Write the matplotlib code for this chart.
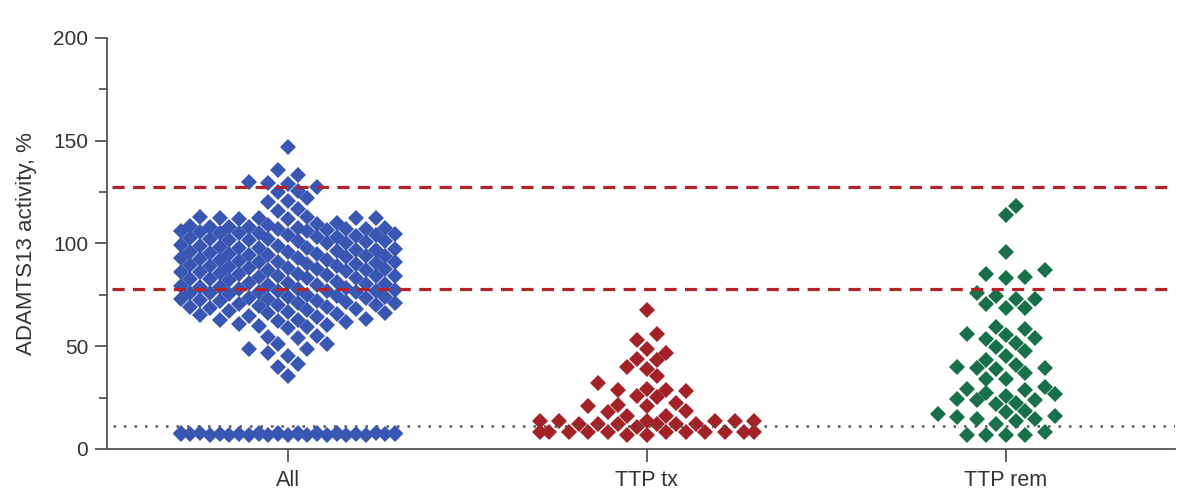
import numpy as np
import matplotlib.pyplot as plt

plt.rcParams['font.family'] = ['Liberation Sans', 'DejaVu Sans']

categories = ['All', 'TTP tx', 'TTP rem']

all_values = [
    # upper scatter
    147, 136, 133.5, 130, 129.5, 129, 127.5, 125, 125.5, 122, 120.5, 120,
    117, 116, 113, 112.5, 112.5, 112, 112.5, 113, 112, 112.5,
    # dense core
    107, 107.5, 108, 107, 109, 108.5, 107.5, 110, 108, 107, 109.5, 108,
    105, 104, 106, 105.5, 104.5, 105, 103.5, 106.5, 105, 104, 106,
    101, 102, 100, 101.5, 103, 102.5, 100.5, 101, 102, 100, 101.5, 103,
    98, 97, 99, 98.5, 97.5, 96.5, 99.5, 98, 97, 98, 99,
    95, 94, 96, 93, 94.5, 95.5, 93.5, 94, 95, 96, 93, 94.5,
    91, 90, 92, 91.5, 89.5, 90.5, 92.5, 91, 90, 92, 91,
    88, 87, 86, 89, 87.5, 88.5, 86.5, 87, 88, 89, 86, 87.5,
    84, 83, 85, 84.5, 82.5, 83.5, 85.5, 84, 83, 85, 84, 82.5,
    80, 81, 79, 80.5, 82, 79.5, 81.5, 80, 81, 79, 80.5,
    77, 76, 78, 77.5, 76.5, 75.5, 78.5, 77, 76, 78, 77, 76.5,
    73, 74, 72, 73.5, 75, 72.5, 74.5, 73, 74, 72, 73.5,
    70, 69, 71, 70.5, 68.5, 69.5, 71.5, 70, 69, 71,
    66, 67, 65, 66.5, 68, 65.5, 67.5, 66,
    63, 64, 62, 63.5, 64.5, 62.5, 63,
    60, 59, 60.5, 61, 59.5,
    # lower tail
    54.7, 55, 54, 51, 51, 48.7, 48.7, 46.7, 45.4, 41.4, 39.7, 35.5,
    # below detection
    7, 7.5, 8, 7, 7.5, 8, 7, 7.5, 8, 7.5, 7, 8, 7.5, 7, 8,
    7.5, 7, 7.5, 8, 7, 7.5, 8, 7, 7.5, 8, 7.5, 7, 7.5, 8, 7.5,
]

tx_values = [
    67.6, 56.1, 53.1, 48.9, 46.9, 43.7, 43.2, 38.8, 40, 35.3, 31.9,
    29.4, 28.6, 25.9, 25.1, 28.6, 28.3, 22.6, 21, 21.5, 21, 18.6, 17.8,
    16.2, 16.2, 13.7, 13.7, 13.7, 13.7, 13.7, 13.7,
    12.1, 12.1, 12.1, 12.1, 12.1, 12.1, 10.7,
    8.1, 8.1, 8.1, 8.1, 8.1, 8.1, 8.1, 8.1, 8.1, 8.1, 8.1, 7, 7,
]

rem_values = [
    118.1, 114.1, 96, 86.9, 83.8, 83, 85, 75.7, 73.1, 70.7, 68.8, 68.8,
    72.8, 74.4, 59.5, 58.3, 56.1, 53.7, 51.8, 47.7, 49.4, 54.2, 55.3,
    45.3, 40.9, 39.2, 34.3, 38.8, 37.2, 39.2, 40, 43.4, 34, 29.1, 27.2,
    28.6, 30.4, 26.7, 25.9, 24.3, 22.3, 23.8, 23.9, 21.8, 18.6, 17.8,
    17, 16.2, 14.6, 13.7, 12.1, 14.6, 15.4, 8.1, 6.8, 6.8, 6.8, 6.8,
]

normal_range = [78, 127.5]
detection_limit = 11

colors = ['#3a56b3', '#a32228', '#18704b']

PX_X = 359.0   # pixels per category step
PX_Y = 2.055   # pixels per % unit


def swarm_offsets(values, w=19.5, h=14.0, grid=9.75, half=112):
    # place points bottom-up on a half-step grid, nearest free slot to centre
    vals = np.asarray(values, float)
    ypx = vals * PX_Y
    kmax = int(half // grid)
    ks = np.arange(-kmax, kmax + 1)
    xs = np.zeros(len(vals))
    px, py = [], []
    for i in np.argsort(vals, kind='stable'):
        if px:
            ax_ = np.array(px)
            ay_ = np.array(py)
            cand = ks[:, None] * grid
            d = np.abs(cand - ax_[None, :]) / w + np.abs(ypx[i] - ay_[None, :]) / h
            over = np.clip(1 - d, 0, None).sum(axis=1)
        else:
            over = np.zeros(len(ks))
        left = sum(1 for v in px if v < 0)
        right = sum(1 for v in px if v > 0)
        bias = np.where(ks < 0, left, right) * 1e-6
        score = over * 1000 + np.abs(ks) + bias
        k = ks[np.argmin(score)]
        xs[i] = k * grid
        px.append(k * grid)
        py.append(ypx[i])
    return xs / PX_X


fig = plt.figure(figsize=(11.79, 4.99), dpi=100)
ax = fig.add_axes([107 / 1179, 1 - 449 / 499, 1068 / 1179, 411 / 499])

for i, (vals, col) in enumerate(zip([all_values, tx_values, rem_values], colors)):
    xs = i + swarm_offsets(vals)
    ax.plot(xs, vals, linestyle='none', marker='D', ms=7.7, mew=0,
            color=col, zorder=2)

for yv in normal_range:
    ax.axhline(yv, xmin=0.005, color='#b3242a', lw=2.3, dashes=(3.8, 2.6),
               zorder=3)
ax.axhline(detection_limit, xmin=0.006, color='#555555', lw=1.8,
           dashes=(1, 3.2), zorder=3)

ax.set_xlim(-0.504, 2.471)
ax.set_ylim(0, 200)
ax.set_xticks(range(len(categories)))
ax.set_xticklabels(categories)
ax.set_yticks([0, 50, 100, 150, 200])
ax.set_yticks([25, 75, 125, 175], minor=True)

for s in ['top', 'right']:
    ax.spines[s].set_visible(False)
for s in ['left', 'bottom']:
    ax.spines[s].set_color('#555555')
    ax.spines[s].set_linewidth(1.3)

ax.tick_params(axis='y', which='major', length=8.6, width=1.3,
               color='#555555', labelsize=15, labelcolor='#333333', pad=5)
ax.tick_params(axis='y', which='minor', length=5.8, width=1.3,
               color='#555555')
ax.tick_params(axis='x', length=9, width=1.3, color='#555555',
               labelsize=15.5, labelcolor='#333333', pad=6)

ax.set_ylabel('ADAMTS13 activity, %', fontsize=16, color='#333333')
ax.yaxis.set_label_coords(-0.066, 0.5)

fig.savefig('out.png', dpi=100)
